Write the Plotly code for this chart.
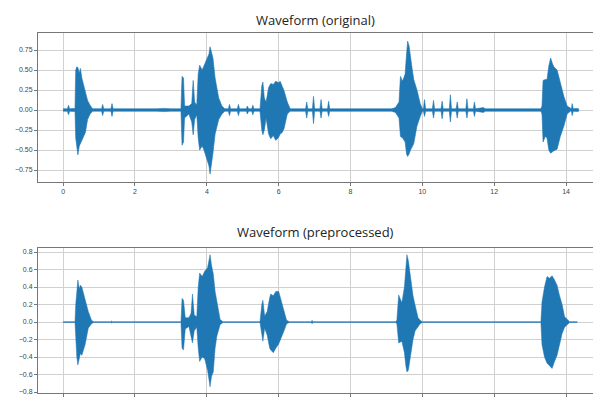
import plotly.graph_objects as go

# ---- Data: amplitude envelopes (time in s) ----
orig_t = [0.00, 0.12, 0.15, 0.18, 0.33, 0.35, 0.38, 0.41, 0.45, 0.48, 0.52, 0.57, 0.62, 0.68, 0.75, 0.82,
          1.07, 1.10, 1.13, 1.33, 1.36, 1.39, 2.60, 2.80, 3.00, 3.28,
          3.31, 3.35, 3.38, 3.50, 3.58, 3.62, 3.66, 3.72, 3.76, 3.80, 3.87, 3.92, 4.00, 4.06, 4.09, 4.13,
          4.17, 4.23, 4.33, 4.42, 4.50, 4.60, 4.63, 4.66, 4.85, 4.88, 4.91, 5.10, 5.13, 5.16, 5.25, 5.28,
          5.31, 5.48, 5.53, 5.56, 5.60, 5.65, 5.72, 5.78, 5.85, 5.92, 6.00, 6.04, 6.10, 6.15, 6.24, 6.32,
          6.75, 6.78, 6.81, 6.94, 6.97, 7.00, 7.15, 7.18, 7.21, 7.36, 7.39, 7.42, 9.15, 9.25, 9.35, 9.39,
          9.45, 9.52, 9.56, 9.59, 9.63, 9.67, 9.72, 9.76, 9.85, 9.94, 10.00, 10.03, 10.06, 10.09, 10.28,
          10.31, 10.34, 10.52, 10.55, 10.58, 10.75, 10.78, 10.81, 10.94, 10.97, 11.00, 11.21, 11.24, 11.27,
          11.42, 11.45, 11.48, 11.70, 11.75, 13.30, 13.33, 13.36, 13.42, 13.47, 13.52, 13.57, 13.62, 13.66,
          13.75, 13.84, 13.94, 14.03, 14.12, 14.15, 14.17, 14.20, 14.31, 14.35]
orig_hi = [0.015, 0.015, 0.06, 0.015, 0.02, 0.50, 0.54, 0.53, 0.46, 0.52, 0.40, 0.30, 0.20, 0.12, 0.06, 0.015,
           0.015, 0.07, 0.015, 0.015, 0.08, 0.015, 0.015, 0.02, 0.015, 0.015,
           0.42, 0.40, 0.05, 0.05, 0.08, 0.37, 0.10, 0.06, 0.45, 0.56, 0.50, 0.55, 0.62, 0.70, 0.79, 0.72,
           0.65, 0.40, 0.15, 0.05, 0.015, 0.015, 0.07, 0.015, 0.015, 0.07, 0.015, 0.015, 0.05, 0.015, 0.015, 0.06,
           0.015, 0.015, 0.30, 0.35, 0.15, 0.10, 0.28, 0.33, 0.32, 0.36, 0.34, 0.36, 0.30, 0.24, 0.10, 0.015,
           0.015, 0.10, 0.015, 0.015, 0.17, 0.015, 0.015, 0.13, 0.015, 0.015, 0.11, 0.015, 0.015, 0.03, 0.10, 0.42,
           0.36, 0.45, 0.70, 0.86, 0.80, 0.69, 0.50, 0.38, 0.25, 0.08, 0.015, 0.015, 0.13, 0.015, 0.015,
           0.12, 0.015, 0.015, 0.11, 0.015, 0.015, 0.19, 0.015, 0.015, 0.10, 0.015, 0.015, 0.14, 0.015,
           0.015, 0.10, 0.015, 0.03, 0.015, 0.015, 0.05, 0.37, 0.38, 0.38, 0.55, 0.65, 0.58, 0.54,
           0.50, 0.33, 0.17, 0.05, 0.015, 0.015, 0.08, 0.015, 0.02, 0.015]
orig_lo = [-0.015, -0.015, -0.06, -0.015, -0.02, -0.35, -0.48, -0.56, -0.45, -0.42, -0.36, -0.33, -0.28, -0.12, -0.05, -0.015,
           -0.015, -0.07, -0.015, -0.015, -0.08, -0.015, -0.015, -0.02, -0.015, -0.015,
           -0.44, -0.40, -0.10, -0.05, -0.15, -0.31, -0.12, -0.06, -0.35, -0.50, -0.45, -0.50, -0.60, -0.70, -0.80, -0.65,
           -0.54, -0.30, -0.12, -0.05, -0.015, -0.015, -0.07, -0.015, -0.015, -0.07, -0.015, -0.015, -0.05, -0.015, -0.015, -0.06,
           -0.015, -0.015, -0.25, -0.31, -0.25, -0.10, -0.30, -0.36, -0.32, -0.38, -0.34, -0.30, -0.28, -0.23, -0.05, -0.015,
           -0.015, -0.10, -0.015, -0.015, -0.17, -0.015, -0.015, -0.10, -0.015, -0.015, -0.08, -0.015, -0.015, -0.03, -0.10, -0.33,
           -0.35, -0.40, -0.55, -0.58, -0.55, -0.50, -0.45, -0.42, -0.20, -0.08, -0.015, -0.015, -0.08, -0.015, -0.015,
           -0.10, -0.015, -0.015, -0.11, -0.015, -0.015, -0.15, -0.015, -0.015, -0.10, -0.015, -0.015, -0.10, -0.015,
           -0.015, -0.08, -0.015, -0.03, -0.015, -0.015, -0.05, -0.40, -0.33, -0.35, -0.50, -0.54, -0.52, -0.51,
           -0.49, -0.33, -0.20, -0.05, -0.015, -0.015, -0.07, -0.015, -0.02, -0.015]

prep_t = [0.00, 0.33, 0.35, 0.38, 0.41, 0.45, 0.48, 0.52, 0.57, 0.61, 0.70, 0.79, 0.85, 1.33, 1.35, 1.37,
          3.28, 3.31, 3.35, 3.40, 3.50, 3.56, 3.60, 3.65, 3.72, 3.76, 3.80, 3.87, 3.94, 4.02, 4.06, 4.09,
          4.13, 4.18, 4.23, 4.28, 4.37, 4.45, 5.48, 5.53, 5.56, 5.61, 5.68, 5.75, 5.78, 5.85, 5.92, 6.00,
          6.08, 6.15, 6.22, 6.30, 6.91, 6.93, 6.95, 9.25, 9.29, 9.34, 9.43, 9.50, 9.54, 9.57, 9.61, 9.68,
          9.74, 9.80, 9.88, 9.94, 10.00, 13.30, 13.33, 13.40, 13.47, 13.54, 13.61, 13.68, 13.75, 13.82,
          13.89, 13.96, 14.03, 14.10, 14.31]
prep_hi = [0.004, 0.004, 0.20, 0.40, 0.48, 0.38, 0.42, 0.40, 0.32, 0.27, 0.12, 0.02, 0.004, 0.004, 0.012, 0.004,
           0.004, 0.27, 0.25, 0.05, 0.05, 0.10, 0.32, 0.08, 0.06, 0.40, 0.56, 0.52, 0.58, 0.62, 0.70, 0.77,
           0.65, 0.55, 0.35, 0.25, 0.03, 0.004, 0.004, 0.20, 0.25, 0.07, 0.12, 0.28, 0.32, 0.30, 0.35, 0.35,
           0.22, 0.12, 0.02, 0.004, 0.004, 0.02, 0.004, 0.004, 0.02, 0.31, 0.22, 0.40, 0.65, 0.77, 0.70, 0.50,
           0.30, 0.19, 0.05, 0.02, 0.004, 0.004, 0.23, 0.40, 0.52, 0.50, 0.53, 0.48, 0.42, 0.30,
           0.20, 0.06, 0.03, 0.004, 0.004]
prep_lo = [-0.004, -0.004, -0.15, -0.40, -0.49, -0.42, -0.36, -0.38, -0.32, -0.26, -0.07, -0.02, -0.004, -0.004, -0.012, -0.004,
           -0.004, -0.30, -0.32, -0.08, -0.05, -0.15, -0.24, -0.10, -0.06, -0.30, -0.45, -0.40, -0.42, -0.55, -0.65, -0.74,
           -0.62, -0.57, -0.30, -0.16, -0.03, -0.004, -0.004, -0.15, -0.22, -0.07, -0.15, -0.30, -0.32, -0.35, -0.30, -0.25,
           -0.18, -0.10, -0.02, -0.004, -0.004, -0.02, -0.004, -0.004, -0.02, -0.24, -0.22, -0.35, -0.50, -0.57, -0.55, -0.38,
           -0.20, -0.10, -0.05, -0.02, -0.004, -0.004, -0.26, -0.40, -0.47, -0.50, -0.53, -0.45, -0.38, -0.25,
           -0.13, -0.06, -0.03, -0.004, -0.004]

titles = ["Waveform (original)", "Waveform (preprocessed)"]
x_ticks = [0, 2, 4, 6, 8, 10, 12, 14]
orig_yticks = [-0.75, -0.50, -0.25, 0.00, 0.25, 0.50, 0.75]
prep_yticks = [-0.8, -0.6, -0.4, -0.2, 0.0, 0.2, 0.4, 0.6, 0.8]

BLUE = "#1f77b4"
W, H = 593, 399


def label(v, fmt):
    s = format(v, fmt)
    return s.replace("-", "\u2212")


fig = go.Figure()
fig.add_trace(go.Scatter(x=orig_t + orig_t[::-1], y=orig_hi + orig_lo[::-1], fill="toself",
                         fillcolor=BLUE, mode="lines", line=dict(color=BLUE, width=0.6),
                         xaxis="x", yaxis="y", hoverinfo="skip", showlegend=False))
fig.add_trace(go.Scatter(x=prep_t + prep_t[::-1], y=prep_hi + prep_lo[::-1], fill="toself",
                         fillcolor=BLUE, mode="lines", line=dict(color=BLUE, width=0.5),
                         xaxis="x2", yaxis="y2", hoverinfo="skip", showlegend=False))

tickfont = dict(family="Liberation Sans, Arial, sans-serif", size=7, color="#444")
grid = "#d0d0d0"
spine = "#777"

common_x = dict(range=[-0.70, 14.75], tickvals=x_ticks, ticks="outside", ticklen=3, tickcolor=spine,
                showgrid=True, gridcolor=grid, gridwidth=1, zeroline=False, automargin=False,
                showline=True, linecolor=spine, linewidth=1, mirror=True, tickfont=tickfont)
common_y = dict(ticks="outside", ticklen=3, tickcolor=spine, showgrid=True, gridcolor=grid,
                gridwidth=1, zeroline=False, showline=True, linecolor=spine, linewidth=1,
                automargin=False, mirror=False, tickfont=tickfont)


def py2paper(py):
    return (H - py) / H


fig.update_layout(
    width=W, height=H,
    margin=dict(l=38, r=0, t=0, b=0),
    paper_bgcolor="white", plot_bgcolor="white",
    xaxis=dict(**common_x, anchor="y", ticktext=[str(v) for v in x_ticks]),
    yaxis=dict(**common_y, range=[-0.90, 0.9625], domain=[py2paper(182), py2paper(33)],
               tickvals=orig_yticks, ticktext=[label(v, ".2f") for v in orig_yticks]),
    xaxis2=dict(**common_x, anchor="y2", showticklabels=False),
    yaxis2=dict(**common_y, range=[-0.811, 0.846], domain=[py2paper(393), py2paper(248)],
                tickvals=prep_yticks, ticktext=[label(v, ".1f") for v in prep_yticks]),
    annotations=[
        dict(text=titles[0], x=0.5, y=py2paper(20), xref="paper", yref="paper",
             xanchor="center", yanchor="middle", showarrow=False,
             font=dict(family="Open Sans, sans-serif", size=13, color="#222")),
        dict(text=titles[1], x=0.5, y=py2paper(232), xref="paper", yref="paper",
             xanchor="center", yanchor="middle", showarrow=False,
             font=dict(family="Open Sans, sans-serif", size=13, color="#222")),
    ],
)

fig.write_html("out.html", config={"displayModeBar": False},
               post_script="document.body.style.margin='0px';")
